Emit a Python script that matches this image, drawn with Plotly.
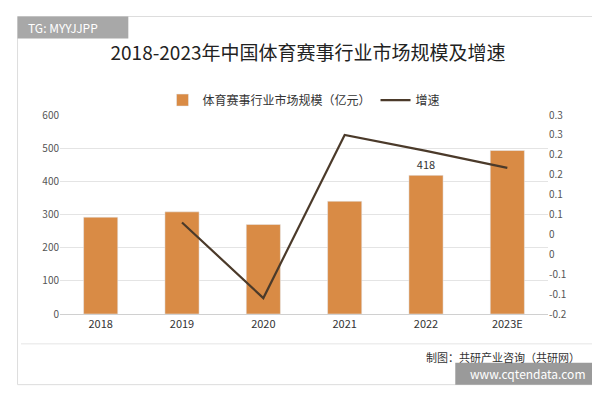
import plotly.graph_objects as go

years = ["2018", "2019", "2020", "2021", "2022", "2023E"]
market_size = [292, 308, 270, 340, 418, 493]
growth_years = ["2019", "2020", "2021", "2022", "2023E"]
growth = [0.03, -0.16, 0.25, 0.21, 0.167]
right_vals = [0.3, 0.25, 0.2, 0.15, 0.1, 0.05, 0, -0.05, -0.1, -0.15, -0.2]
right_text = ["0.3", "0.3", "0.2", "0.2", "0.1", "0.1", "0", "0", "-0.1", "-0.1", "-0.2"]
font = "Noto Sans CJK SC"

fig = go.Figure()
fig.add_trace(go.Bar(
    x=years, y=market_size, name="体育赛事行业市场规模（亿元）",
    marker_color="#D98B45", width=0.42,
    text=["" if y != "2022" else str(v) for y, v in zip(years, market_size)],
    textposition="outside", textfont=dict(size=11, color="#333"),
))
fig.add_trace(go.Scatter(
    x=growth_years, y=growth, name="增速", mode="lines",
    line=dict(color="#4B3A2A", width=2.2), yaxis="y2",
))

fig.update_layout(
    width=600, height=400,
    paper_bgcolor="#ffffff", plot_bgcolor="#ffffff",
    font=dict(family=font, size=11, color="#555"),
    margin=dict(l=52, r=60, t=107, b=94, autoexpand=False),
    title=dict(text="2018-2023年中国体育赛事行业市场规模及增速", x=0.5, y=0.887,
               xanchor="center", yanchor="middle", font=dict(size=19, color="#222")),
    legend=dict(orientation="h", x=0.5, xanchor="center", y=1.075, yanchor="middle",
                font=dict(size=12, color="#333"), bgcolor="rgba(0,0,0,0)"),
    xaxis=dict(tickfont=dict(size=11, color="#333"), showline=True, linecolor="#d0d0d0"),
    yaxis=dict(range=[0, 600], dtick=100, gridcolor="#e4e4e4", zeroline=False,
               tickfont=dict(size=10, color="#555")),
    yaxis2=dict(overlaying="y", side="right", range=[-0.2, 0.3], tickvals=right_vals,
                ticktext=right_text, showgrid=False, zeroline=False,
                tickfont=dict(size=10, color="#555")),
    shapes=[
        dict(type="rect", xref="paper", yref="paper", x0=-0.087, x1=1.105, y0=-0.355, y1=1.495,
             line=dict(color="#dddddd", width=1), fillcolor="rgba(0,0,0,0)", layer="below"),
        dict(type="line", xref="paper", yref="paper", x0=-0.08, x1=1.1, y0=-0.15, y1=-0.15,
             line=dict(color="#e6e6e6", width=1)),
        dict(type="rect", xref="paper", yref="paper", x0=-0.087, x1=0.14, y0=1.385, y1=1.495,
             line=dict(width=0), fillcolor="#a8a8a8"),
        dict(type="rect", xref="paper", yref="paper", x0=0.81, x1=1.105, y0=-0.355, y1=-0.245,
             line=dict(width=0), fillcolor="#9a9a9a"),
    ],
    annotations=[
        dict(text="TG: MYYJJPP", xref="paper", yref="paper", x=-0.07, y=1.44,
             xanchor="left", yanchor="middle", showarrow=False,
             font=dict(size=12, color="white")),
        dict(text="制图：共研产业咨询（共研网）", xref="paper", yref="paper", x=1.07, y=-0.215,
             xanchor="right", yanchor="middle", showarrow=False,
             font=dict(size=11, color="#333")),
        dict(text="www.cqtendata.com", xref="paper", yref="paper", x=0.96, y=-0.3,
             xanchor="center", yanchor="middle", showarrow=False,
             font=dict(size=12, color="white")),
    ],
)

fig.write_html("out.html")
